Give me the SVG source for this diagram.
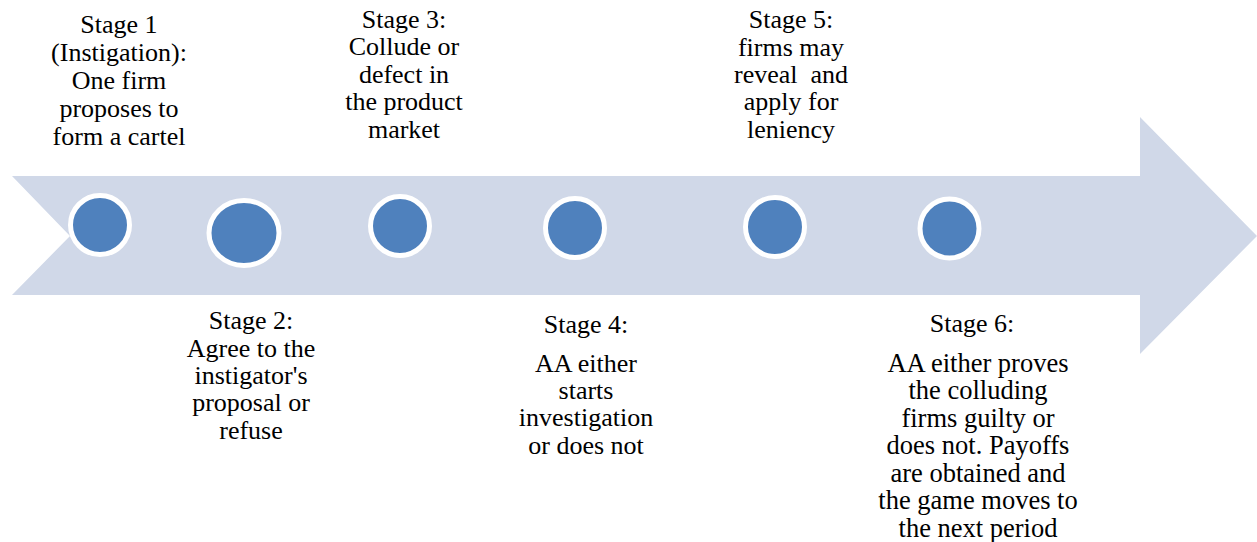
<svg xmlns="http://www.w3.org/2000/svg" width="1257" height="542" viewBox="0 0 1257 542">
<style>
.t{font-family:"Liberation Serif","Tinos","Times New Roman","Nimbus Roman","DejaVu Serif",serif;font-size:26px;fill:#000;text-anchor:middle;white-space:pre}
.s6{font-size:26.5px}
.c{fill:#4F81BD;stroke:#FFFFFF;stroke-width:5}
</style>
<rect width="1257" height="542" fill="#FFFFFF"/>
<g id="arrow">
<polygon points="12,176 1140,176 1140,117 1257,236 1140,354 1140,295 12,295 70,236" fill="#D0D8E8"/>
</g>
<g id="connectors"></g>
<g id="stage1">
<circle class="c" cx="100" cy="225" r="29.5"/>
<text class="t" x="119" y="33">Stage 1</text>
<text class="t" x="119" y="61">(Instigation):</text>
<text class="t" x="119" y="89">One firm</text>
<text class="t" x="119" y="117">proposes to</text>
<text class="t" x="119" y="145">form a cartel</text>
</g>
<g id="stage2">
<ellipse class="c" cx="244" cy="233" rx="35" ry="32.5"/>
<text class="t" x="251" y="329">Stage 2:</text>
<text class="t" x="251" y="357">Agree to the</text>
<text class="t" x="251" y="384">instigator's</text>
<text class="t" x="251" y="411">proposal or</text>
<text class="t" x="251" y="439">refuse</text>
</g>
<g id="stage3">
<circle class="c" cx="400" cy="226" r="29.5"/>
<text class="t" x="404" y="28">Stage 3:</text>
<text class="t" x="404" y="55">Collude or</text>
<text class="t" x="404" y="83">defect in</text>
<text class="t" x="404" y="110">the product</text>
<text class="t" x="404" y="138">market</text>
</g>
<g id="stage4">
<circle class="c" cx="575" cy="228" r="29.5"/>
<text class="t" x="586" y="333">Stage 4:</text>
<text class="t" x="586" y="372">AA either</text>
<text class="t" x="586" y="399">starts</text>
<text class="t" x="586" y="426">investigation</text>
<text class="t" x="586" y="454">or does not</text>
</g>
<g id="stage5">
<circle class="c" cx="775" cy="227" r="29.5"/>
<text class="t" x="791" y="28">Stage 5:</text>
<text class="t" x="791" y="56">firms may</text>
<text class="t" x="791" y="83">reveal  and</text>
<text class="t" x="791" y="110">apply for</text>
<text class="t" x="791" y="138">leniency</text>
</g>
<g id="stage6">
<circle class="c" cx="949.5" cy="228.5" r="29.5"/>
<text class="t" x="972" y="332">Stage 6:</text>
<text class="t s6" x="978" y="372">AA either proves</text>
<text class="t s6" x="978" y="399">the colluding</text>
<text class="t s6" x="978" y="427">firms guilty or</text>
<text class="t s6" x="978" y="454">does not. Payoffs</text>
<text class="t s6" x="978" y="482">are obtained and</text>
<text class="t s6" x="978" y="509">the game moves to</text>
<text class="t s6" x="978" y="537">the next period</text>
</g>
</svg>
